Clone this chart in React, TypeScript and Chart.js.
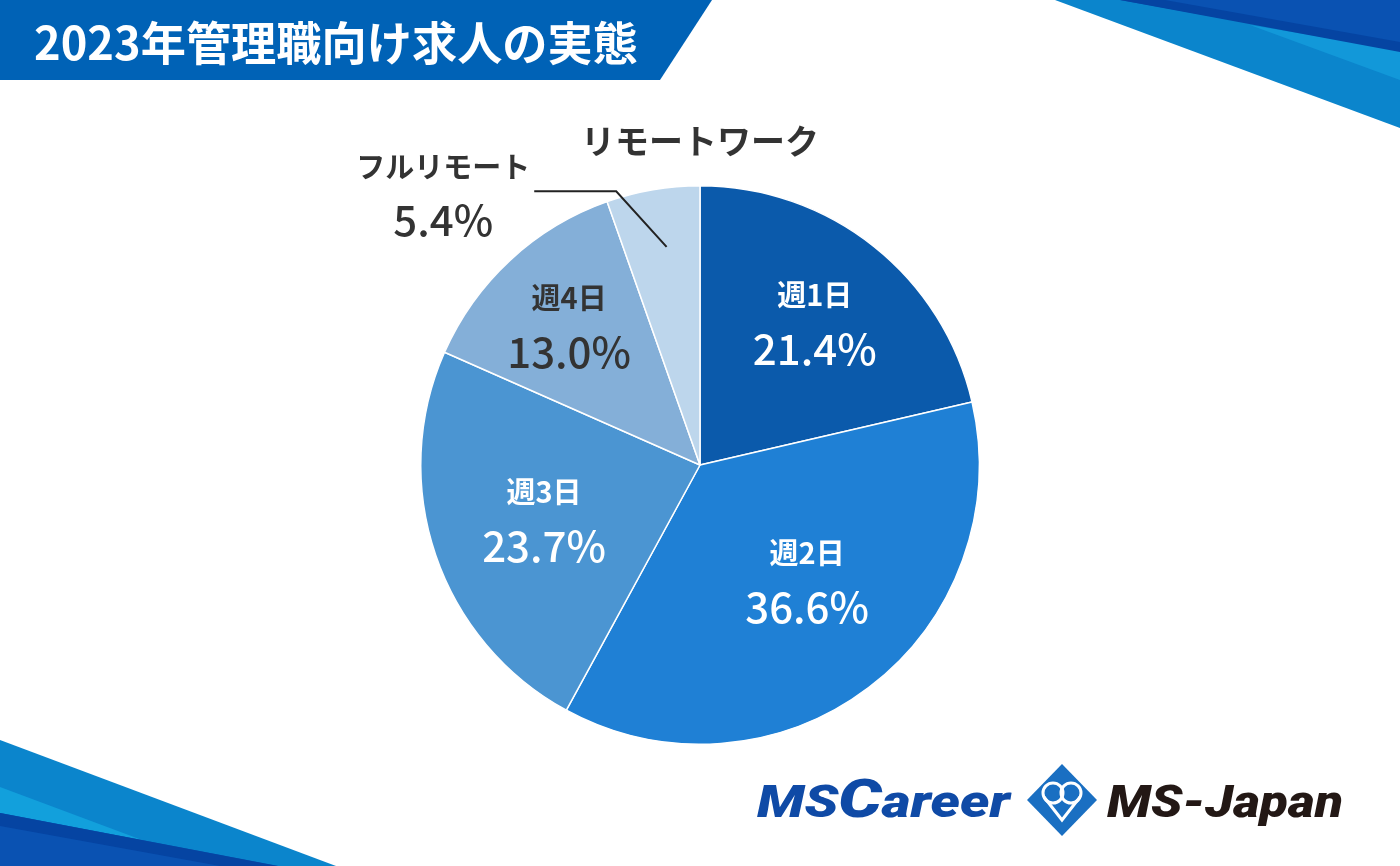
import React, { useEffect, useRef } from "react";
import { Chart, registerables } from "chart.js";

Chart.register(...registerables);

const TITLE = "2023年管理職向け求人の実態";
const GROUP_TITLE = "リモートワーク";
const categories = ["週1日", "週2日", "週3日", "週4日", "フルリモート"];
const shares = [21.4, 36.6, 23.7, 13.0, 5.4];
const sliceColors = ["#0b5aab", "#1f80d5", "#4b95d2", "#84afd8", "#bdd6ec"];
const labelColors = ["#ffffff", "#ffffff", "#ffffff", "#333333", "#333333"];
// label placement inside slices: fraction of radius and angle tweak (deg)
const labelRadius = [0.66, 0.56, 0.59, 0.69, 0];
const labelAngleTweak = [0, -6, 0, 0, 0];

const JP = '"Noto Sans CJK JP", "Noto Sans", sans-serif';

function poly(ctx: CanvasRenderingContext2D, pts: number[][], color: string) {
  ctx.beginPath();
  ctx.moveTo(pts[0][0], pts[0][1]);
  for (let i = 1; i < pts.length; i++) ctx.lineTo(pts[i][0], pts[i][1]);
  ctx.closePath();
  ctx.fillStyle = color;
  ctx.fill();
}

const decorPlugin = {
  id: "decor",
  beforeDraw(chart: any) {
    const ctx: CanvasRenderingContext2D = chart.ctx;
    const W = chart.width;
    const H = chart.height;
    ctx.save();
    ctx.fillStyle = "#ffffff";
    ctx.fillRect(0, 0, W, H);

    // title banner
    poly(ctx, [[0, 0], [712, 0], [660, 80], [0, 80]], "#0062b6");
    ctx.fillStyle = "#ffffff";
    ctx.font = `bold 46px ${JP}`;
    ctx.textBaseline = "alphabetic";
    ctx.textAlign = "left";
    ctx.fillText(TITLE, 34, 60, 604);

    // top-right stripes
    poly(ctx, [[1055, 0], [W, 0], [W, 128]], "#0b85cc");
    poly(ctx, [[1250, 25], [W, 50], [W, 80]], "#1298d9");
    poly(ctx, [[1120, 0], [W, 0], [W, 50]], "#0a52b2");
    poly(ctx, [[1120, 0], [1165, 0], [W, 42], [W, 52]], "#0544a2");

    // bottom-left stripes
    poly(ctx, [[0, 740], [336, H], [0, H]], "#0b85cc");
    poly(ctx, [[0, 787], [142, 840], [0, 813]], "#12a0dc");
    poly(ctx, [[0, 813], [278, H], [0, H]], "#0a52b2");
    poly(ctx, [[0, 813], [278, H], [220, H], [0, 826]], "#0544a2");
    ctx.restore();
  },
  afterDraw(chart: any) {
    const ctx: CanvasRenderingContext2D = chart.ctx;
    ctx.save();
    // MS Career logo
    ctx.fillStyle = "#0f4aa6";
    ctx.textBaseline = "alphabetic";
    ctx.textAlign = "left";
    const f1 = 'italic 900 44px Roboto, "Liberation Sans", sans-serif';
    const f2 = 'italic 900 54px Roboto, "Liberation Sans", sans-serif';
    ctx.font = f1;
    const wMS = ctx.measureText("MS").width;
    const wAr = ctx.measureText("areer").width;
    ctx.font = f2;
    const wC = ctx.measureText("C").width;
    const total = wMS + wC + wAr;
    ctx.save();
    ctx.translate(757, 817);
    ctx.scale(253 / total, 1);
    ctx.font = f1;
    ctx.fillText("MS", 0, 0);
    ctx.font = f2;
    ctx.fillText("C", wMS, 0);
    ctx.font = f1;
    ctx.fillText("areer", wMS + wC, 0);
    ctx.restore();

    // diamond
    const cx = 1062, cy = 800;
    poly(ctx, [[cx, cy - 36], [cx + 35, cy], [cx, cy + 36], [cx - 35, cy]], "#1a6fc2");
    ctx.strokeStyle = "#ffffff";
    ctx.lineWidth = 3;
    ctx.beginPath();
    ctx.arc(cx - 9, cy - 7, 10, 0, Math.PI * 2);
    ctx.stroke();
    ctx.beginPath();
    ctx.arc(cx + 9, cy - 7, 10, 0, Math.PI * 2);
    ctx.stroke();
    ctx.beginPath();
    ctx.moveTo(cx - 18, cy - 3);
    ctx.lineTo(cx, cy + 20);
    ctx.lineTo(cx + 18, cy - 3);
    ctx.stroke();

    // MS-Japan
    ctx.fillStyle = "#231815";
    ctx.font = f1;
    const wJ = ctx.measureText("MS-Japan").width;
    ctx.save();
    ctx.translate(1107, 817);
    ctx.scale(236 / wJ, 1);
    ctx.fillText("MS-Japan", 0, 0);
    ctx.restore();
    ctx.restore();
  },
  afterDatasetsDraw(chart: any) {
    const ctx: CanvasRenderingContext2D = chart.ctx;
    const meta = chart.getDatasetMeta(0);
    ctx.save();
    ctx.textAlign = "center";
    ctx.textBaseline = "middle";
    let cxp = 0, top = 0;
    meta.data.forEach((arc: any, i: number) => {
      const p = arc.getProps(["x", "y", "startAngle", "endAngle", "outerRadius"], true);
      cxp = p.x;
      top = p.y - p.outerRadius;
      const mid = (p.startAngle + p.endAngle) / 2;
      const pct = shares[i].toFixed(1) + "%";
      if (labelRadius[i] > 0) {
        const a = mid + (labelAngleTweak[i] * Math.PI) / 180;
        const lx = p.x + Math.cos(a) * p.outerRadius * labelRadius[i];
        const ly = p.y + Math.sin(a) * p.outerRadius * labelRadius[i];
        ctx.fillStyle = labelColors[i];
        ctx.font = `bold 29px ${JP}`;
        ctx.fillText(categories[i], lx, ly - 26);
        ctx.font = `500 42px ${JP}`;
        ctx.fillText(pct, lx, ly + 28);
      } else {
        // outside label with leader line
        const a1 = mid + (1 * Math.PI) / 180;
        const sx = p.x + Math.cos(a1) * p.outerRadius * 0.79;
        const sy = p.y + Math.sin(a1) * p.outerRadius * 0.79;
        const a2 = p.startAngle + (2.4 * Math.PI) / 180;
        const ex = p.x + Math.cos(a2) * p.outerRadius * 1.025;
        const ey = p.y + Math.sin(a2) * p.outerRadius * 1.025;
        const hx = ex - 82;
        ctx.strokeStyle = "#222222";
        ctx.lineWidth = 2;
        ctx.beginPath();
        ctx.moveTo(sx, sy);
        ctx.lineTo(ex, ey);
        ctx.lineTo(hx, ey);
        ctx.stroke();
        const lx = hx - 91;
        ctx.fillStyle = labelColors[i];
        ctx.font = `bold 29px ${JP}`;
        ctx.fillText(categories[i], lx, ey - 24);
        ctx.font = `500 42px ${JP}`;
        ctx.fillText(pct, lx, ey + 29);
      }
    });
    ctx.fillStyle = "#333333";
    ctx.font = `bold 34px ${JP}`;
    ctx.fillText(GROUP_TITLE, cxp, top - 45);
    ctx.restore();
  },
};

export default function App() {
  const ref = useRef<HTMLCanvasElement | null>(null);
  useEffect(() => {
    if (!ref.current) return;
    const chart = new Chart(ref.current, {
      type: "pie",
      data: {
        labels: categories,
        datasets: [
          {
            data: shares,
            backgroundColor: sliceColors,
            borderColor: "#ffffff",
            borderWidth: 1.5,
          },
        ],
      },
      options: {
        responsive: false,
        animation: false,
        devicePixelRatio: 1,
        layout: { padding: { top: 185, bottom: 121, left: 420, right: 420 } },
        plugins: { legend: { display: false }, tooltip: { enabled: false } },
        events: [],
      },
      plugins: [decorPlugin],
    });
    return () => chart.destroy();
  }, []);
  return (
    <div style={{ position: "absolute", left: 0, top: 0, width: 1400, height: 866, background: "#fff" }}>
      <canvas ref={ref} width={1400} height={866} style={{ display: "block" }} />
    </div>
  );
}
